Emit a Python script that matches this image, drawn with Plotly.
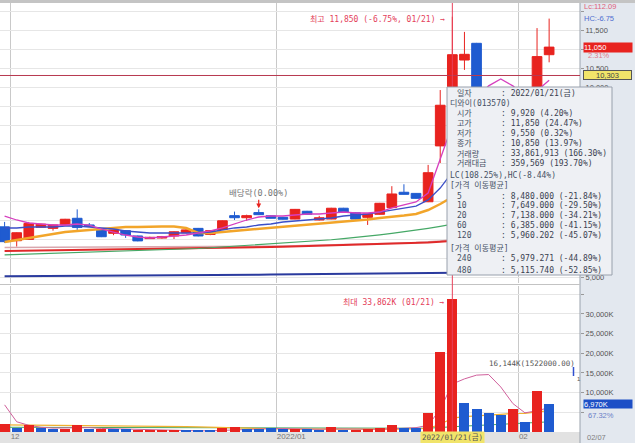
import plotly.graph_objects as go

W, H = 635, 443
def px(x): return x / W
def py(y): return 1 - y / H

# ---------------- data ----------------
dates = ["2021-11-30",
         "2021-12-01", "2021-12-02", "2021-12-03", "2021-12-06", "2021-12-07", "2021-12-08", "2021-12-09",
         "2021-12-10", "2021-12-13", "2021-12-14", "2021-12-15", "2021-12-16", "2021-12-17", "2021-12-20",
         "2021-12-21", "2021-12-22", "2021-12-23", "2021-12-24", "2021-12-27", "2021-12-28", "2021-12-29",
         "2021-12-30",
         "2022-01-03", "2022-01-04", "2022-01-05", "2022-01-06", "2022-01-07", "2022-01-10", "2022-01-11",
         "2022-01-12", "2022-01-13", "2022-01-14", "2022-01-17", "2022-01-18", "2022-01-19", "2022-01-20",
         "2022-01-21", "2022-01-24", "2022-01-25", "2022-01-26", "2022-01-27", "2022-01-28",
         "2022-02-03", "2022-02-04", "2022-02-07"]

opens  = [6320, 5955, 5990, 6310, 6280, 6370, 6545, 6370, 6240, 6150, 6220, 6080, 6010, 6025, 6080, 6165,
          6280, 6120, 6250, 6615, 6560, 6695, 6610, 6570, 6525, 6730, 6500, 6525, 6810, 6690, 6570, 6650,
          6825, 7230, 7200, 6980, 8450, 9920, 10710, 11150, 9700, 9450, 9200, 9700, 9500, 10850]
highs  = [6450, 6175, 6450, 6400, 6380, 6530, 6780, 6420, 6250, 6250, 6230, 6090, 6060, 6080, 6200, 6260,
          6290, 6230, 6490, 6720, 6640, 6780, 6620, 6580, 6790, 6740, 6610, 6820, 6820, 6700, 6670, 6950,
          7390, 7440, 7210, 7950, 9920, 11850, 11450, 11160, 9900, 9600, 9800, 9850, 11550, 11800]
lows   = [5900, 5800, 5980, 6300, 6220, 6360, 6240, 6330, 6050, 6100, 6030, 5940, 6000, 6010, 6000, 6150,
          6070, 6100, 6240, 6500, 6480, 6630, 6540, 6510, 6520, 6640, 6490, 6520, 6700, 6520, 6370, 6640,
          6810, 7170, 7060, 6970, 8000, 9550, 10450, 9600, 9300, 9000, 9100, 9400, 9450, 10650]
closes = [5930, 6165, 6410, 6390, 6370, 6520, 6305, 6340, 6060, 6240, 6105, 5950, 6045, 6060, 6190, 6240,
          6080, 6220, 6480, 6560, 6615, 6640, 6545, 6520, 6780, 6650, 6560, 6810, 6710, 6525, 6660, 6940,
          7185, 7175, 7070, 7745, 9520, 10850, 10860, 9700, 9450, 9150, 9650, 9450, 10800, 11050]

# volume in thousands of shares
volume_k = [1970, 920, 1790, 1000, 660, 740, 1790, 740, 660, 660, 660, 390, 300, 300, 300, 300,
            300, 300, 1000, 1370, 660, 660, 920, 740, 840, 660, 570, 1270, 570, 570, 660, 1000,
            1710, 1000, 1000, 4905, 20300, 33862, 7300, 5845, 4830, 4245, 5920, 2540, 10420, 7040]
volume_updown = list("RBRBBRRBRB" "BRRRRBBBRR" "BBBBRBBRBR" "RRRBBRRRBB" "BBRBRB")

# price moving averages
ma5 = [6605, 6500, 6421, 6395, 6368, 6368, 6395, 6368, 6263, 6184, 6105, 6053, 6026, 6053, 6079, 6105,
       6158, 6211, 6290, 6395, 6500, 6579, 6605, 6605, 6632, 6658, 6658, 6684, 6710, 6684, 6684, 6710,
       6816, 6895, 6974, 7210, 8130, 9000, 9500, 9700, 10030, 10210, 10030, 9750, 9900, 10180]
ma10 = [6290, 6290, 6316, 6316, 6316, 6342, 6342, 6316, 6290, 6263, 6211, 6184, 6158, 6158, 6158, 6158,
        6158, 6184, 6237, 6290, 6316, 6368, 6395, 6447, 6474, 6500, 6526, 6553, 6605, 6632, 6658, 6710,
        6763, 6816, 6868, 7030, 7340, 7760, 8200, 8600, 8900, 9200, 9400, 9300, 9350, 9400]
ma20 = [5921, 5974, 6026, 6079, 6132, 6184, 6211, 6237, 6276, 6303, 6316, 6316, 6329, 6329, 6329, 6290,
        6160, 6158, 6184, 6211, 6237, 6263, 6290, 6316, 6342, 6368, 6395, 6421, 6447, 6474, 6513, 6553,
        6579, 6618, 6658, 6763, 6921, 7105, 7450, 7700, 7950, 8150, 8350, 8500, 8700, 8900]
ma60 = [5580, 5590, 5600, 5610, 5620, 5630, 5640, 5650, 5660, 5670, 5680, 5690, 5700, 5710, 5720, 5735,
        5750, 5770, 5790, 5810, 5830, 5850, 5870, 5890, 5910, 5930, 5950, 5980, 6010, 6040, 6070, 6110,
        6150, 6190, 6230, 6280, 6330, 6385, 6450, 6510, 6570, 6620, 6680, 6730, 6800, 6870]
ma120 = [5684, 5688, 5692, 5696, 5700, 5704, 5708, 5712, 5716, 5720, 5724, 5728, 5732, 5736, 5740, 5745,
         5750, 5756, 5762, 5768, 5774, 5780, 5788, 5796, 5804, 5812, 5820, 5828, 5836, 5844, 5852, 5862,
         5872, 5884, 5896, 5910, 5930, 5960, 5975, 5990, 6005, 6020, 6035, 6050, 6065, 6080]
ma240 = [5775, 5776, 5777, 5778, 5779, 5780, 5781, 5782, 5783, 5784, 5785, 5786, 5787, 5788, 5789, 5790,
         5792, 5794, 5796, 5798, 5800, 5805, 5810, 5815, 5820, 5826, 5832, 5838, 5845, 5852, 5860, 5870,
         5880, 5892, 5905, 5920, 5945, 5979, 5990, 6000, 6010, 6020, 6030, 6040, 6050, 6060]
ma480 = [5020, 5021, 5022, 5023, 5024, 5025, 5026, 5027, 5028, 5029, 5030, 5031, 5032, 5033, 5034, 5035,
         5037, 5040, 5045, 5050, 5055, 5060, 5064, 5068, 5072, 5076, 5080, 5084, 5088, 5092, 5095, 5098,
         5101, 5104, 5107, 5110, 5112, 5115, 5118, 5120, 5122, 5124, 5126, 5128, 5130, 5132]

# volume moving averages (thousands)
vma5 = [6900, 2600, 1700, 1200, 1000, 1000, 1150, 1100, 900, 820, 650, 560, 450, 380, 320, 300,
        300, 300, 420, 600, 720, 800, 860, 860, 750, 720, 700, 800, 760, 740, 600, 700,
        800, 950, 1100, 1700, 5800, 12200, 13500, 14450, 14600, 11450, 7240, 4870, 5400, 6180]
vma20 = [1800, 1780, 1760, 1740, 1720, 1700, 1690, 1680, 1660, 1640, 1610, 1580, 1540, 1500, 1440, 1380,
         1300, 1200, 1100, 1000, 900, 850, 800, 760, 740, 720, 700, 700, 690, 680, 680, 690,
         720, 740, 760, 950, 1900, 3550, 3900, 4150, 4350, 4500, 4700, 4750, 5100, 5400]
vma60 = [1200, 1190, 1180, 1170, 1160, 1150, 1140, 1130, 1120, 1110, 1100, 1090, 1080, 1070, 1060, 1050,
         1040, 1030, 1020, 1010, 1000, 990, 980, 970, 960, 950, 940, 930, 920, 910, 900, 900,
         910, 920, 930, 960, 1150, 1400, 1500, 1650, 1800, 1950, 2100, 2250, 2420, 2580]

tick_text = ["12", "2022/01", "02"]
month_starts = ["2021-12-01", "2022-01-03", "2022-02-03"]

tooltip_rows = [
    (93.0, "일자", ": 2022/01/21(금)"),
    (103.0, "디와이(013570)", None),
    (113.5, "시가", ": 9,920 (4.20%)"),
    (123.5, "고가", ": 11,850 (24.47%)"),
    (133.5, "저가", ": 9,550 (0.32%)"),
    (143.5, "종가", ": 10,850 (13.97%)"),
    (153.5, "거래량", ": 33,861,913 (166.30%)"),
    (163.5, "거래대금", ": 359,569 (193.70%)"),
    (175.0, "LC(108.25%),HC(-8.44%)", None),
    (185.0, "[가격 이동평균]", None),
    (196.5, "5", ": 8,480.000 (-21.84%)"),
    (206.0, "10", ": 7,649.000 (-29.50%)"),
    (215.5, "20", ": 7,138.000 (-34.21%)"),
    (225.0, "60", ": 6,385.000 (-41.15%)"),
    (235.0, "120", ": 5,960.202 (-45.07%)"),
    (248.0, "[가격 이동평균]", None),
    (258.5, "240", ": 5,979.271 (-44.89%)"),
    (270.0, "480", ": 5,115.740 (-52.85%)"),
]

# ---------------- figure ----------------
RED = "#e8231f"
BLUE = "#1f5bd0"
MONO = "DejaVu Sans Mono, Noto Sans CJK KR, monospace"
SANS = "Liberation Sans, Arial, sans-serif"

n = len(dates)
xi = list(range(n))
sel = dates.index("2022-01-21")
divi = dates.index("2021-12-29")
last = n - 1
mtick = [dates.index(d) - 0.5 for d in month_starts]

XR = [-0.38, 47.55]
PRICE_R = [4842.1, 12210.5]
VOL_R = [0, 37103]

fig = go.Figure()

fig.add_trace(go.Candlestick(
    x=xi, open=opens, high=highs, low=lows, close=closes,
    increasing=dict(line=dict(color=RED, width=1), fillcolor=RED),
    decreasing=dict(line=dict(color=BLUE, width=1), fillcolor=BLUE),
    whiskerwidth=0, xaxis="x", yaxis="y", hoverinfo="skip", showlegend=False))

for vals, col, w in [(ma480, "#2b3b9e", 2), (ma240, "#d9a7ae", 1.5), (ma120, "#e02a2a", 2),
                     (ma60, "#45a866", 1.2), (ma20, "#f2a52a", 2.5), (ma10, "#3b4fc8", 1.3),
                     (ma5, "#d63fbf", 1.3)]:
    fig.add_trace(go.Scatter(x=xi, y=vals, mode="lines", line=dict(color=col, width=w),
                             xaxis="x", yaxis="y", hoverinfo="skip", showlegend=False))

for vals, col, w in [(vma60, "#46a862", 1), (vma20, "#f0b030", 1.2), (vma5, "#d0609c", 1)]:
    fig.add_trace(go.Scatter(x=xi, y=vals, mode="lines", line=dict(color=col, width=w),
                             xaxis="x2", yaxis="y2", hoverinfo="skip", showlegend=False))

fig.add_trace(go.Bar(x=xi, y=volume_k, width=0.83,
                     marker=dict(color=[RED if d == "R" else BLUE for d in volume_updown], line=dict(width=0)),
                     xaxis="x2", yaxis="y3", hoverinfo="skip", showlegend=False))

tickfont = dict(family=SANS, size=7.5, color="#555")
price_ticks = list(range(5000, 12001, 500))
price_text = [f"{v:,}" if v in (5000, 10000, 10500, 11500) else "" for v in price_ticks]
vol_ticks = list(range(5000, 35001, 5000))
vol_text = [f"{v:,}K" if 10000 <= v <= 30000 else "" for v in vol_ticks]

fig.update_layout(
    width=W, height=H, margin=dict(l=0, r=0, t=0, b=0),
    paper_bgcolor="white", plot_bgcolor="white", showlegend=False, hovermode=False,
    boxgap=0.2, boxgroupgap=0, bargap=0,
    xaxis=dict(domain=[0, px(580)], range=XR, anchor="y", tickvals=mtick, showticklabels=False,
               showgrid=True, gridcolor="#c9c9c9", gridwidth=1, zeroline=False, ticks="",
               rangeslider=dict(visible=False)),
    yaxis=dict(domain=[py(283), py(3)], range=PRICE_R, anchor="x", side="right",
               tickvals=price_ticks, ticktext=price_text, tickfont=tickfont,
               ticks="outside", ticklen=3, tickcolor="#999",
               showgrid=True, gridcolor="#e6e6e6", zeroline=False),
    xaxis2=dict(domain=[0, px(580)], range=XR, anchor="y2", tickvals=mtick, ticktext=tick_text,
                ticklabelposition="outside right", ticklabelstandoff=-2,
                tickfont=dict(family=SANS, size=8, color="#777"),
                showgrid=True, gridcolor="#c9c9c9", zeroline=False, ticks=""),
    yaxis2=dict(domain=[py(432), py(286)], range=VOL_R, anchor="x2", side="right",
                tickvals=vol_ticks, ticktext=vol_text, tickfont=tickfont,
                ticks="outside", ticklen=3, tickcolor="#999",
                showgrid=True, gridcolor="#e6e6e6", zeroline=False),
    yaxis3=dict(overlaying="y2", range=VOL_R, anchor="x2", visible=False, showgrid=False),
)

shapes = [
    # right axis strip
    dict(type="rect", xref="paper", yref="paper", x0=px(580), x1=1, y0=0, y1=1,
         fillcolor="#e3e8ef", line=dict(width=0), layer="below"),
    dict(type="line", xref="paper", yref="paper", x0=px(580), x1=px(580), y0=0, y1=1,
         line=dict(color="#9aa2ad", width=1), layer="above"),
    # bottom date strip
    dict(type="rect", xref="paper", yref="paper", x0=0, x1=px(580), y0=0, y1=py(432),
         fillcolor="#e2e2e2", line=dict(width=0), layer="below"),
    # top band
    dict(type="rect", xref="paper", yref="paper", x0=0, x1=1, y0=py(3), y1=1,
         fillcolor="#c4c4c4", line=dict(width=0), layer="above"),
    # panel separator
    dict(type="line", xref="paper", yref="paper", x0=0, x1=px(580), y0=py(284.5), y1=py(284.5),
         line=dict(color="#c3c3c3", width=1), layer="above"),
    # crosshair
    dict(type="line", xref="paper", yref="y", x0=0, x1=px(580), y0=10303, y1=10303,
         line=dict(color="#b8394f", width=1), layer="above"),
    dict(type="line", xref="x", yref="paper", x0=sel, x1=sel, y0=py(432), y1=py(3),
         line=dict(color="#e8405a", width=1), layer="above"),
    # tooltip box
    dict(type="rect", xref="paper", yref="paper", x0=px(447), x1=px(612), y0=py(275), y1=py(87),
         fillcolor="#eef0f4", line=dict(color="#98a0ac", width=1), layer="above"),
    # small blue marker near volume note
    dict(type="line", xref="paper", yref="paper", x0=px(573.5), x1=px(573.5), y0=py(376), y1=py(367),
         line=dict(color="#3050d0", width=1.5), layer="above"),
]
fig.update_layout(shapes=shapes)

ann = []
def T(x, y, text, color="#3c4452", size=8, family=MONO, xanchor="left", **kw):
    d = dict(xref="paper", yref="paper", x=px(x), y=py(y), text=text, showarrow=False,
             xanchor=xanchor, yanchor="middle", font=dict(family=family, size=size, color=color))
    d.update(kw)
    ann.append(d)

for y, lab, val in tooltip_rows:
    lx = 455 if val is not None else 448
    T(lx, y, lab, color="#465064")
    if val is not None:
        T(499, y, val, color="#3a4150")

# right axis specials
T(582, 7, "Lc:112.09", color="#e0607a", size=7.5, family=SANS)
T(582, 18.5, "HC:-6.75", color="#4f6fd0", size=7.5, family=SANS)
ann.append(dict(xref="paper", yref="y", x=px(583), y=closes[last], text=f"{closes[last]:,}",
                showarrow=False, xanchor="left", yanchor="middle", width=48, height=9, align="left",
                bgcolor=RED, borderpad=0, font=dict(family=SANS, size=7.5, color="white")))
T(586, 55, "2.31%", color="#e07a8a", size=7.5, family=SANS)
ann.append(dict(xref="paper", yref="y", x=px(583), y=10303, text="10,303",
                showarrow=False, xanchor="left", yanchor="middle", width=47, height=8, align="center",
                bgcolor="#f1e46a", bordercolor="#555", borderwidth=1, borderpad=0,
                font=dict(family=SANS, size=7.5, color="#444")))
ann.append(dict(xref="paper", yref="y2", x=px(583), y=volume_k[last], text="6,970K",
                showarrow=False, xanchor="left", yanchor="middle", width=48, height=8, align="left",
                bgcolor="#1d4fc6", borderpad=0, font=dict(family=SANS, size=7.5, color="white")))
T(586, 415, "67.32%", color="#6a80c8", size=7.5, family=SANS)
T(585, 437.5, "02/07", color="#808080", size=7.5, family=SANS)

# x crosshair date label
ann.append(dict(xref="x2", yref="paper", x=sel, y=py(437.5), text="2022/01/21(금)", showarrow=False,
                xanchor="center", yanchor="middle", bgcolor="#f1e46a", borderpad=1,
                font=dict(family=MONO, size=7.5, color="#555")))

# chart notes
ann.append(dict(xref="x", yref="y", x=sel, y=highs[sel], text="최고 11,850 (-6.75%, 01/21) →",
                showarrow=False, xanchor="right", yanchor="middle", xshift=-5, yshift=-2,
                font=dict(family=MONO, size=8, color="#e4405a")))
ann.append(dict(xref="x2", yref="y2", x=sel, y=volume_k[sel], text="최대 33,862K (01/21) →",
                showarrow=False, xanchor="right", yanchor="middle", xshift=-5, yshift=-3,
                font=dict(family=MONO, size=8, color="#e4405a")))
ann.append(dict(xref="x", yref="y", x=divi, y=highs[divi], text="배당락(0.00%)",
                showarrow=True, ax=0, ay=-16, arrowhead=2, arrowsize=0.8, arrowwidth=1.2,
                arrowcolor=RED, standoff=1, font=dict(family=MONO, size=8.5, color="#777")))
T(487, 363, "16,144K(1522000.00)", color="#555", size=7.5)
T(575, 379, "1", color="#555", size=6, family=SANS)

fig.update_layout(annotations=ann)
fig.write_html("out.html", config={"displayModeBar": False},
               post_script="document.body.style.margin='0px';document.body.style.overflow='hidden';")
